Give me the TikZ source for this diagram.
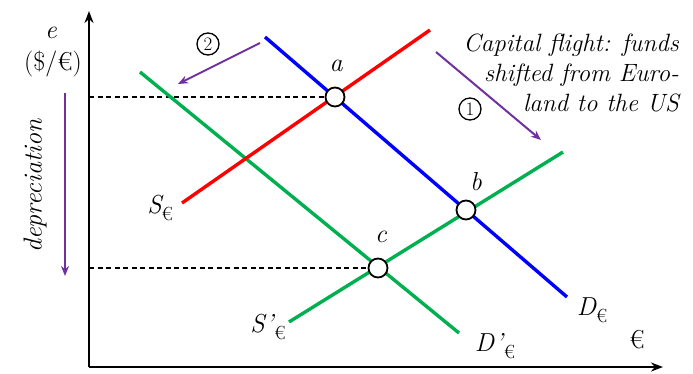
\documentclass[tikz,border=0pt]{standalone}
\usepackage{fontspec}
\usetikzlibrary{arrows.meta}
\definecolor{cblue}{RGB}{0,0,255}
\definecolor{cred}{RGB}{255,0,0}
\definecolor{cgreen}{RGB}{0,176,80}
\definecolor{cpurple}{RGB}{112,48,160}
\tikzset{
  axisline/.style={line width=2.6pt,-{Stealth[length=12pt,width=9pt]}},
  curve/.style={line width=3.4pt},
  guide/.style={line width=1.4pt,dash pattern=on 5pt off 3.5pt},
  eqpt/.style={circle,draw,fill=white,line width=1.8pt,minimum size=19pt,inner sep=0pt},
  shiftarrow/.style={cpurple,line width=2pt,-{Stealth[length=10pt,width=8pt]}},
  lbl/.style={inner sep=0pt,font=\fontsize{26}{30}\selectfont\itshape},
  rlbl/.style={inner sep=0pt,font=\fontsize{26}{30}\selectfont},
  circnum/.style={circle,draw,line width=1.3pt,minimum size=22pt,inner sep=0pt,font=\fontsize{19}{19}\selectfont},
}
\newcommand{\subeuro}{\raisebox{-7pt}{\fontsize{19}{19}\selectfont\upshape €}}
\begin{document}
\begin{tikzpicture}[x=1pt,y=-1pt]
\useasboundingbox (0,0) rectangle (693,374);
% axes
\coordinate (O) at (89,367);
\coordinate (ytop) at (89,11);
\coordinate (xend) at (663,367);
\draw[axisline] (O) -- (ytop);
\draw[axisline] (O) -- (xend);
% curve end points
\coordinate (D1) at (265,37);
\coordinate (D2) at (567,297);
\coordinate (S1) at (182,203);
\coordinate (S2) at (430,30);
\coordinate (Sp1) at (289,322);
\coordinate (Sp2) at (563,152);
\coordinate (Dp1) at (140,72);
\coordinate (Dp2) at (459,333);
% guide starts
\coordinate (ga) at (89,97);
\coordinate (gc) at (89,268);
% equilibrium points positions
\coordinate (pa) at (335,97);
\coordinate (pb) at (466,210);
\coordinate (pc) at (378,268);
\draw[guide] (ga) -- (pa);
\draw[guide] (gc) -- (pc);
\draw[curve,cgreen] (Dp1) -- (Dp2);
\draw[curve,cgreen] (Sp1) -- (Sp2);
\draw[curve,cred] (S1) -- (S2);
\draw[curve,cblue] (D1) -- (D2);
\node[eqpt] (a) at (pa) {};
\node[eqpt] (b) at (pb) {};
\node[eqpt] (c) at (pc) {};
% point labels
\node[lbl] (la) at (336,66) {a};
\node[lbl] (lb) at (476,182) {b};
\node[lbl] (lc) at (381,237) {c};
% curve labels
\node[lbl] (lS) at (160,208) {S\subeuro};
\node[lbl] (lSp) at (268,327) {S\kern1pt’\kern1pt\subeuro};
\node[lbl] (lD) at (592,310) {D\subeuro};
\node[lbl] (lDp) at (495,346) {D\kern1pt’\kern1pt\subeuro};
\node[rlbl] (lx) at (637,340) {€};
% y axis labels
\node[lbl] (le) at (51,33) {e};
\node[rlbl] (lunit) at (53,64) {(\$/€)};
% depreciation arrow
\coordinate (dp1) at (65,93);
\coordinate (dp2) at (65,276);
\draw[shiftarrow] (dp1) -- (dp2);
\node[lbl,rotate=90] (ldep) at (35,186) {depreciation};
% shift arrows
\coordinate (s1a) at (436,52);
\coordinate (s1b) at (541,140);
\draw[shiftarrow] (s1a) -- (s1b);
\coordinate (s2a) at (260,43);
\coordinate (s2b) at (178,84);
\draw[shiftarrow] (s2a) -- (s2b);
\node[circnum] (n1) at (470,109) {1};
\node[circnum] (n2) at (208,44) {2};
% note
\node[lbl,anchor=north east,align=right,font=\fontsize{25}{30}\selectfont\itshape] (note) at (679,34)
  {Capital flight: funds\\shifted from Euro-\\land to the US};
\end{tikzpicture}
\end{document}
